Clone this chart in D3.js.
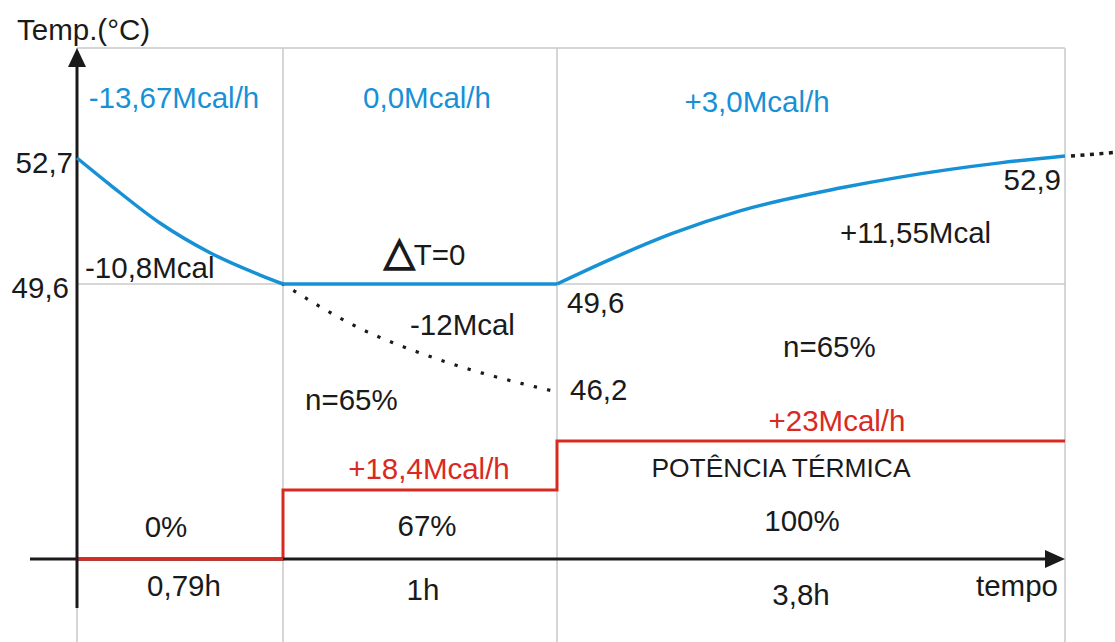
<!DOCTYPE html>
<html>
<head>
<meta charset="utf-8">
<script src="https://cdn.jsdelivr.net/npm/d3@7"></script>
<style>
  html, body { margin: 0; padding: 0; background: #fff; }
  svg text { font-family: "Liberation Sans", Arial, sans-serif; }
</style>
</head>
<body>
<svg id="chart"></svg>
<script>
// Phase boundaries (cumulative hours) and per-phase labels
const phaseEnds = [0, 0.79, 1.79, 5.59];
const phaseDurations = ['0,79h', '1h', '3,8h'];
const lossRates = ['-13,67Mcal/h', '0,0Mcal/h', '+3,0Mcal/h'];
const powerPercent = ['0%', '67%', '100%'];
const powerValues = [0, 18.4, 23];
const powerLabels = ['', '+18,4Mcal/h', '+23Mcal/h'];

// Temperature reference values (°C)
const tempMarks = [46.2, 49.6, 52.7, 52.9];

// Cooling, phase 1 (boiler off)
const coolTime = [0, 0.127, 0.318, 0.51, 0.702, 0.79];
const coolTemp = [52.7, 52.04, 51.1, 50.37, 49.82, 49.6];

// Holding, phase 2
const holdTime = [0.79, 1.79];
const holdTemp = [49.6, 49.6];

// Heating, phase 3
const heatTime = [1.79, 2.164, 2.658, 3.159, 3.907, 4.356, 5.104, 5.59];
const heatTemp = [49.6, 50.17, 50.85, 51.40, 51.96, 52.23, 52.58, 52.9];

// Hypothetical cooling without boiler in phase 2 (dotted)
const dropTime = [0.79, 1.06, 1.363, 1.79];
const dropTemp = [49.6, 48.25, 47.21, 46.2];

// Continuation after phase 3 (dotted)
const contTime = [5.59, 5.96];
const contTemp = [52.9, 53.3];

const width = 1115, height = 642;
const BLUE = '#1791d6', RED = '#d92a22', INK = '#1a1a1a', GRID = '#c8c8c8';
const FS = 29.5;

const svg = d3.select('#chart')
  .attr('width', width)
  .attr('height', height)
  .attr('viewBox', `0 0 ${width} ${height}`);

// Schematic (non-proportional) scales
const x = d3.scaleLinear().domain(phaseEnds).range([77, 283, 557, 1065]);
const y = d3.scaleLinear().domain(tempMarks).range([392, 284, 158, 156]);
const p = d3.scaleLinear().domain(powerValues).range([559, 490, 441]);

const topY = 48, bottomY = 642, axisY = p(0);

const g = svg.append('g');

// Grid
g.append('line').attr('x1', x(0)).attr('x2', x(phaseEnds[3]))
  .attr('y1', topY).attr('y2', topY)
  .attr('stroke', GRID).attr('stroke-width', 1.5);
g.append('line').attr('x1', x(0)).attr('x2', x(phaseEnds[3]))
  .attr('y1', y(49.6)).attr('y2', y(49.6))
  .attr('stroke', GRID).attr('stroke-width', 1.5);
g.selectAll('.vgrid')
  .data(phaseEnds)
  .join('line')
  .attr('class', 'vgrid')
  .attr('x1', d => x(d)).attr('x2', d => x(d))
  .attr('y1', topY).attr('y2', bottomY)
  .attr('stroke', GRID).attr('stroke-width', 1.5);

const line = d3.line()
  .x(d => x(d[0]))
  .y(d => y(d[1]))
  .curve(d3.curveMonotoneX);

const pair = (a, b) => a.map((v, i) => [v, b[i]]);

// Dotted lines
g.append('path')
  .datum(pair(dropTime, dropTemp))
  .attr('fill', 'none').attr('stroke', INK)
  .attr('stroke-width', 3.2).attr('stroke-linecap', 'square')
  .attr('stroke-dasharray', '0.1 13.6')
  .attr('d', line);

g.append('path')
  .datum(pair(contTime, contTemp))
  .attr('fill', 'none').attr('stroke', INK)
  .attr('stroke-width', 3.5)
  .attr('stroke-dasharray', '4 5.5')
  .attr('transform', 'translate(6,0)')
  .attr('d', line);

// Power (red step line)
const stepData = phaseEnds.map((t, i) => [t, powerValues[Math.min(i, powerValues.length - 1)]]);
g.append('path')
  .datum(stepData)
  .attr('fill', 'none').attr('stroke', RED)
  .attr('stroke-width', 3)
  .attr('d', d3.line().x(d => x(d[0])).y(d => p(d[1])).curve(d3.curveStepAfter));

// Axes
g.append('line').attr('x1', 30).attr('x2', x(phaseEnds[3]) - 12)
  .attr('y1', axisY).attr('y2', axisY)
  .attr('stroke', INK).attr('stroke-width', 3);
g.append('path')
  .attr('d', `M${x(phaseEnds[3])},${axisY} l-20,-9 l0,18 z`)
  .attr('fill', INK);
// redraw red on top of the axis in phase 1
g.append('line').attr('x1', x(0)).attr('x2', x(phaseEnds[1]))
  .attr('y1', p(0)).attr('y2', p(0))
  .attr('stroke', RED).attr('stroke-width', 3);

g.append('line').attr('x1', x(0)).attr('x2', x(0))
  .attr('y1', 608).attr('y2', topY + 12)
  .attr('stroke', INK).attr('stroke-width', 3);
g.append('path')
  .attr('d', `M${x(0)},${topY} l-9,19 l18,0 z`)
  .attr('fill', INK);

// Temperature (blue)
[pair(coolTime, coolTemp), pair(holdTime, holdTemp), pair(heatTime, heatTemp)].forEach(seg => {
  g.append('path')
    .datum(seg)
    .attr('fill', 'none').attr('stroke', BLUE)
    .attr('stroke-width', 3.5).attr('stroke-linejoin', 'round')
    .attr('d', line);
});

// Text helpers
function label(txt, px, py, opts = {}) {
  return g.append('text')
    .attr('x', px).attr('y', py)
    .attr('text-anchor', opts.anchor || 'start')
    .attr('font-size', opts.size || FS)
    .attr('fill', opts.color || INK)
    .text(txt);
}

label('Temp.(°C)', 17, 40);
label('tempo', 1058, 596, { anchor: 'end' });

// Temperature values
label('52,7', 73, y(52.7) + 15, { anchor: 'end' });
label('49,6', 69, y(49.6) + 14, { anchor: 'end' });
label('49,6', x(phaseEnds[2]) + 10, y(49.6) + 29);
label('46,2', x(phaseEnds[2]) + 13, y(46.2) + 8);
label('52,9', x(phaseEnds[3]) - 4, y(52.9) + 34, { anchor: 'end' });

// Loss rates per phase (blue)
const rateX = [174, 427, 757];
const rateY = [108, 108, 112];
lossRates.forEach((r, i) => label(r, rateX[i], rateY[i], { anchor: 'middle', color: BLUE }));

// Energy annotations
label('-10,8Mcal', 85, y(49.6) - 6);
const dT = label('', 384, y(49.6) - 19);
dT.append('tspan')
  .attr('font-family', 'DejaVu Sans')
  .attr('font-size', 40)
  .attr('stroke', INK).attr('stroke-width', 1.6)
  .text('\u25B3');
dT.append('tspan').attr('dx', -1).text('T=0');
label('-12Mcal', 410, y(49.6) + 51);
label('+11,55Mcal', 840, 243);
label('n=65%', 305, 410);
label('n=65%', 783, 357);

// Power labels
label(powerLabels[1], 429, p(powerValues[1]) - 11, { anchor: 'middle', color: RED });
label(powerLabels[2], 837, p(powerValues[2]) - 10, { anchor: 'middle', color: RED });
label('POTÊNCIA TÉRMICA', 781, 477, { anchor: 'middle', size: 26.4 });

const pctX = [166, 427, 802];
const pctY = [537, 536, 531];
powerPercent.forEach((t, i) => label(t, pctX[i], pctY[i], { anchor: 'middle' }));

const durX = [184, 423, 801];
const durY = [596, 600, 605];
phaseDurations.forEach((t, i) => label(t, durX[i], durY[i], { anchor: 'middle' }));
</script>
</body>
</html>
